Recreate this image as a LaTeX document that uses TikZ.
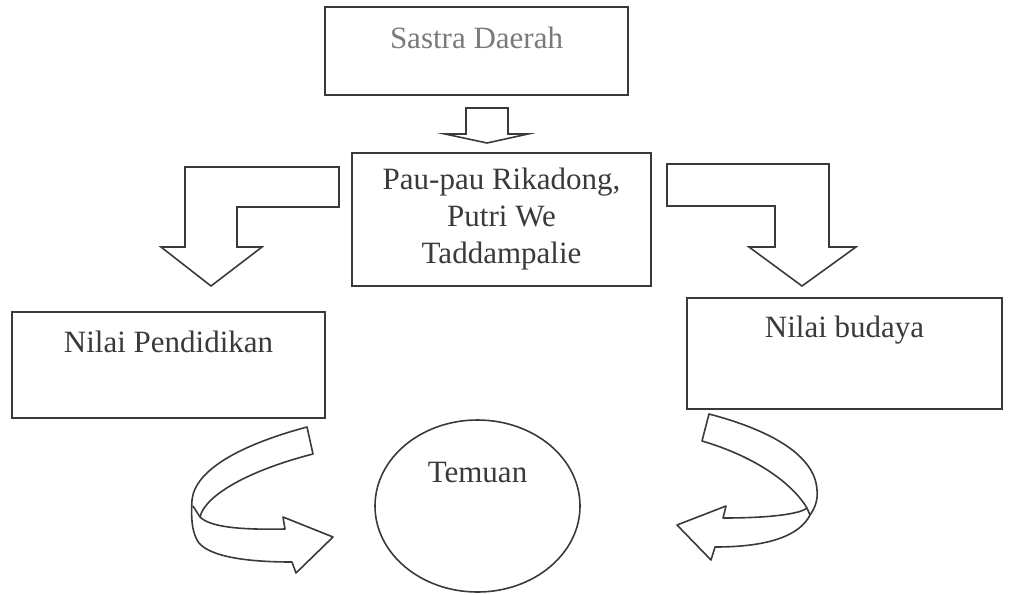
\documentclass[tikz,border=0pt]{standalone}
\usepackage{fontspec}
\setmainfont{Liberation Serif}
\usepackage{xcolor}
\usetikzlibrary{shapes.geometric}
\definecolor{ink}{HTML}{3A3A3A}
\definecolor{faded}{HTML}{7A7A7A}

\begin{document}
\begin{tikzpicture}[x=0.5pt, y=-0.5pt,
  box/.style={draw=ink, line width=0.8pt, inner sep=0pt, text=ink,
    font=\fontsize{15.5}{18.5}\selectfont},
  blockarrow/.style={draw=ink, line width=0.8pt, line join=miter},
  ribbon/.style={draw=ink, line width=0.8pt, line join=round}]
  \useasboundingbox (0,0) rectangle (1010,594);
  \node[box, minimum width=151.5pt, text height=20.5pt, text depth=23.5pt, text=faded] (sastra) at (476.5,51) {Sastra Daerah};
  \node[box, minimum width=149.5pt, minimum height=66.5pt, align=center] (pau) at (501.5,219.5) {Pau-pau Rikadong,\\ Putri We\\ Taddampalie};
  \node[box, minimum width=156.5pt, text height=20pt, text depth=33pt] (didik) at (168.5,365) {Nilai Pendidikan};
  \node[box, minimum width=157.5pt, text height=19.5pt, text depth=36pt] (budaya) at (844.5,353.5) {Nilai budaya};
  \node[box, ellipse, minimum width=102.5pt, minimum height=86pt, text height=10.5pt, text depth=34.5pt] (temuan) at (477.5,506) {Temuan};
  % block arrows
  \draw[blockarrow] (466,108) -- (508,108) -- (508,134) -- (528,134) -- (487,143) -- (445,134) -- (466,134) -- cycle;
  \draw[blockarrow] (339,167) -- (185,167) -- (185,247) -- (161,247) -- (211,286) -- (262,247) -- (237,247) -- (237,207) -- (339,207) -- cycle;
  \draw[blockarrow] (667,164) -- (829,164) -- (829,247) -- (856,247) -- (802,286) -- (749,247) -- (775,247) -- (775,206) -- (667,206) -- cycle;
  % curved arrows
  \draw[ribbon] (307,427) .. controls (240,445) and (195,470) .. (192,500)
    .. controls (191,520) and (192,530) .. (197,540)
    .. controls (205,555) and (240,562) .. (292,562)
    -- (296,573) -- (333,537) -- (283,517) -- (285,529)
    .. controls (240,530) and (210,527) .. (200,517)
    .. controls (205,495) and (250,470) .. (313,454) -- cycle;
  \draw[ribbon] (200,517) -- (193,506);
  \draw[ribbon] (709,414) .. controls (770,430) and (815,455) .. (817,490)
    .. controls (818,500) and (815,508) .. (810,515)
    .. controls (800,535) and (770,547) .. (715,547)
    -- (711,560) -- (677,525) -- (726,506) -- (723,518)
    .. controls (770,518) and (800,514) .. (807,508)
    .. controls (790,480) and (750,455) .. (702,441) -- cycle;
  \draw[ribbon] (807,508) -- (810,515);
\end{tikzpicture}
\end{document}
